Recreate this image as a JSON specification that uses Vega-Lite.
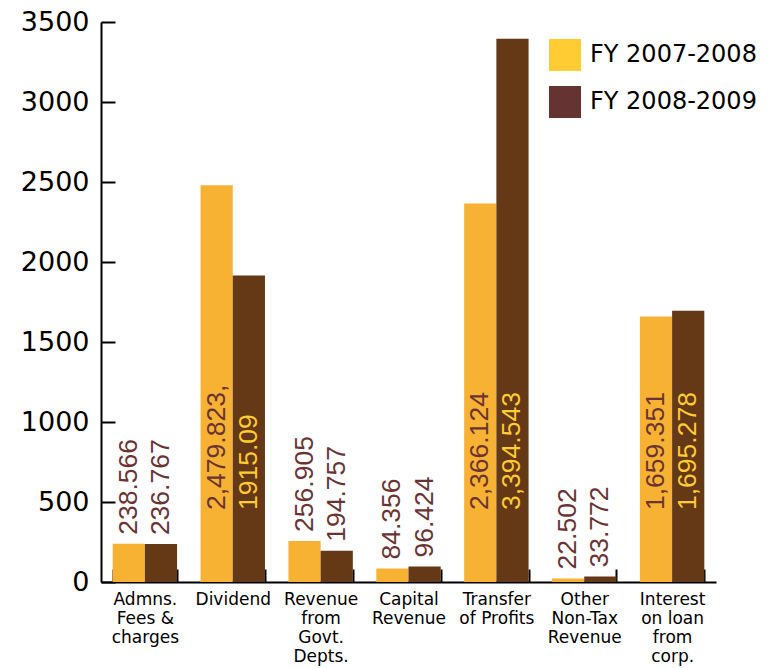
{
  "$schema": "https://vega.github.io/schema/vega-lite/v6.json",
  "width": 615,
  "height": 560,
  "autosize": "none",
  "padding": {"left": 101, "top": 22, "right": 58, "bottom": 86},
  "background": "white",
  "config": {
    "view": {"stroke": null},
    "font": "DejaVu Sans"
  },
  "data": {
    "values": [
      {"category": "Admns.\nFees &\ncharges", "year": "FY 2007-2008", "value": 238.566, "label": "238.566"},
      {"category": "Admns.\nFees &\ncharges", "year": "FY 2008-2009", "value": 236.767, "label": "236.767"},
      {"category": "Dividend", "year": "FY 2007-2008", "value": 2479.823, "label": "2,479.823,"},
      {"category": "Dividend", "year": "FY 2008-2009", "value": 1915.09, "label": "1915.09"},
      {"category": "Revenue\nfrom\nGovt.\nDepts.", "year": "FY 2007-2008", "value": 256.905, "label": "256.905"},
      {"category": "Revenue\nfrom\nGovt.\nDepts.", "year": "FY 2008-2009", "value": 194.757, "label": "194.757"},
      {"category": "Capital\nRevenue", "year": "FY 2007-2008", "value": 84.356, "label": "84.356"},
      {"category": "Capital\nRevenue", "year": "FY 2008-2009", "value": 96.424, "label": "96.424"},
      {"category": "Transfer\nof Profits", "year": "FY 2007-2008", "value": 2366.124, "label": "2,366.124"},
      {"category": "Transfer\nof Profits", "year": "FY 2008-2009", "value": 3394.543, "label": "3,394.543"},
      {"category": "Other\nNon-Tax\nRevenue", "year": "FY 2007-2008", "value": 22.502, "label": "22.502"},
      {"category": "Other\nNon-Tax\nRevenue", "year": "FY 2008-2009", "value": 33.772, "label": "33.772"},
      {"category": "Interest\non loan\nfrom\ncorp.", "year": "FY 2007-2008", "value": 1659.351, "label": "1,659.351"},
      {"category": "Interest\non loan\nfrom\ncorp.", "year": "FY 2008-2009", "value": 1695.278, "label": "1,695.278"}
    ]
  },
  "encoding": {
    "x": {
      "field": "category",
      "type": "nominal",
      "sort": null,
      "scale": {"paddingInner": 0.267, "paddingOuter": 0.133},
      "axis": {
        "title": null,
        "labelAngle": 0,
        "labelExpr": "split(datum.label, '\\n')",
        "labelFont": "DejaVu Sans",
        "labelFontSize": 17,
        "labelLineHeight": 19,
        "labelColor": "black",
        "labelPadding": 22,
        "labelBaseline": "top",
        "tickBand": "extent",
        "tickSize": -13,
        "tickWidth": 2,
        "tickColor": "black",
        "domainWidth": 2,
        "domainColor": "black",
        "grid": false
      }
    },
    "xOffset": {"field": "year", "type": "nominal", "sort": ["FY 2007-2008", "FY 2008-2009"]}
  },
  "layer": [
    {
      "transform": [{"filter": "false"}],
      "mark": {"type": "square", "filled": true},
      "encoding": {
        "color": {
          "field": "year",
          "type": "nominal",
          "scale": {"domain": ["FY 2007-2008", "FY 2008-2009"], "range": ["#FFCC33", "#663333"]},
          "legend": {
            "title": null,
            "orient": "none",
            "legendX": 448,
            "legendY": 17,
            "padding": 0,
            "symbolType": "square",
            "symbolSize": 1024,
            "symbolStrokeWidth": 0,
            "symbolOpacity": 1,
            "rowPadding": 15,
            "labelOffset": 9,
            "labelLimit": 400,
            "labelFont": "DejaVu Sans",
            "labelFontSize": 24,
            "labelColor": "black"
          }
        }
      }
    },
    {
      "mark": {"type": "bar"},
      "encoding": {
        "y": {
          "field": "value",
          "type": "quantitative",
          "scale": {"domain": [0, 3500], "nice": false},
          "axis": {
            "title": null,
            "values": [0, 500, 1000, 1500, 2000, 2500, 3000, 3500],
            "format": "d",
            "labelFont": "DejaVu Sans",
            "labelFontSize": 27,
            "labelColor": "black",
            "labelPadding": 26,
            "labelFlush": false,
            "labelOverlap": false,
            "tickSize": -14,
            "tickWidth": 2,
            "tickColor": "black",
            "domainWidth": 2,
            "domainColor": "black",
            "grid": false
          }
        },
        "fill": {
          "field": "year",
          "type": "nominal",
          "scale": {"domain": ["FY 2007-2008", "FY 2008-2009"], "range": ["#F7B234", "#663916"]},
          "legend": null
        }
      }
    },
    {
      "transform": [{"filter": "datum.value < 1000"}],
      "mark": {
        "type": "text",
        "angle": 270,
        "align": "left",
        "baseline": "middle",
        "dx": 9,
        "font": "Liberation Sans",
        "fontSize": 26.5,
        "color": "#6B3333"
      },
      "encoding": {
        "y": {"field": "value", "type": "quantitative"},
        "text": {"field": "label"}
      }
    },
    {
      "transform": [{"filter": "datum.value >= 1000"}],
      "mark": {
        "type": "text",
        "angle": 270,
        "align": "left",
        "baseline": "middle",
        "font": "Liberation Sans",
        "fontSize": 26.5
      },
      "encoding": {
        "y": {"datum": 450, "type": "quantitative"},
        "text": {"field": "label"},
        "color": {
          "condition": {"test": "datum.year == 'FY 2008-2009'", "value": "#FFCC33"},
          "value": "#6B3333"
        }
      }
    }
  ]
}
